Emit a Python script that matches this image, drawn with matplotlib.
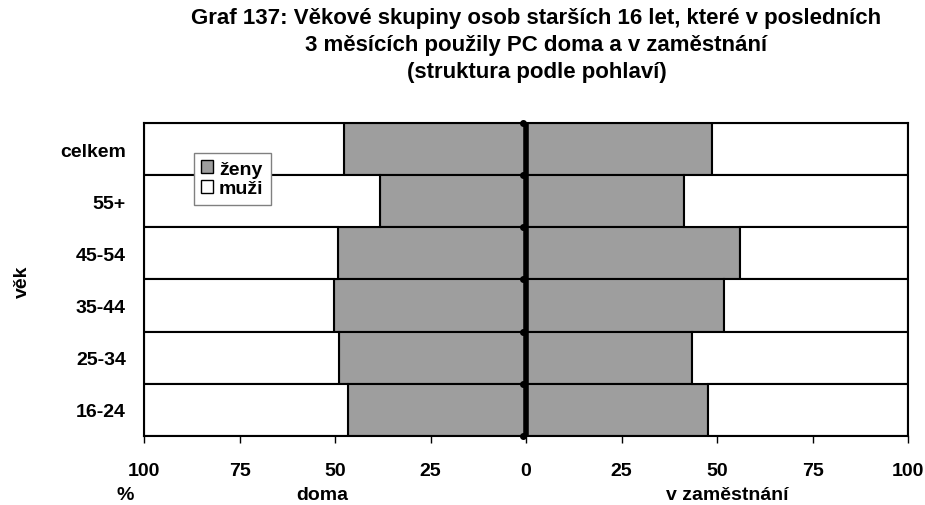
import numpy as np
import matplotlib.pyplot as plt
from matplotlib.patches import Patch

plt.rcParams['font.family'] = ['Liberation Sans', 'DejaVu Sans']
plt.rcParams['font.weight'] = 'bold'

# data
vek = ['celkem', '55+', '45-54', '35-44', '25-34', '16-24']
doma_zeny = [47.6, 38.2, 49.2, 50.4, 49.0, 46.6]
prace_zeny = [48.7, 41.4, 56.0, 51.8, 43.5, 47.6]
xticks = [-100, -75, -50, -25, 0, 25, 50, 75, 100]

seda = '#9e9e9e'
y = np.arange(len(vek))[::-1]
doma_zeny = np.array(doma_zeny)
prace_zeny = np.array(prace_zeny)

fig = plt.figure(figsize=(9.25, 5.06), dpi=100)
ax = fig.add_axes([0.1557, 0.1364, 0.826, 0.6186])

# levá strana - doma
ax.barh(y, -doma_zeny, height=1, color=seda, edgecolor='black', lw=1.5)
ax.barh(y, -(100 - doma_zeny), left=-doma_zeny, height=1, color='white',
        edgecolor='black', lw=1.5)
# pravá strana - v zaměstnání
ax.barh(y, prace_zeny, height=1, color=seda, edgecolor='black', lw=1.5)
ax.barh(y, 100 - prace_zeny, left=prace_zeny, height=1, color='white',
        edgecolor='black', lw=1.5)

# středová osa
ax.axvline(0, color='black', lw=4, zorder=5)
hranice = np.arange(len(vek) + 1) - 0.5
ax.plot(np.full(len(hranice), -0.9), hranice, 'o', color='black', ms=4,
        zorder=6, clip_on=False)

ax.set_xlim(-100, 100)
ax.set_ylim(-0.5, len(vek) - 0.5)
ax.set_xticks(xticks)
ax.set_xticklabels([str(abs(t)) for t in xticks], fontsize=14, fontweight='bold')
ax.tick_params(axis='x', direction='out', length=5, width=1, pad=14)
ax.set_yticks(y)
ax.set_yticklabels(vek, fontsize=14, fontweight='bold')
ax.tick_params(axis='y', length=0, pad=13)
for s in ax.spines.values():
    s.set_linewidth(1.5)

fig.text(0.024, 0.443, 'věk', rotation=90, ha='center', va='center',
         fontsize=14, fontweight='bold')
fig.text(0.135, 0.02, '%', ha='center', va='center', fontsize=14, fontweight='bold')
fig.text(0.348, 0.02, 'doma', ha='center', va='center', fontsize=14, fontweight='bold')
fig.text(0.786, 0.02, 'v zaměstnání', ha='center', va='center', fontsize=14,
         fontweight='bold')

fig.suptitle('Graf 137: Věkové skupiny osob starších 16 let, které v posledních\n'
             '3 měsících použily PC doma a v zaměstnání\n(struktura podle pohlaví)',
             x=0.58, y=0.985, fontsize=16, fontweight='bold', linespacing=1.4)

leg = ax.legend(handles=[Patch(facecolor=seda, edgecolor='black', label='ženy'),
                         Patch(facecolor='white', edgecolor='black', label='muži')],
                loc='upper left', bbox_to_anchor=(0.065, 0.905), fontsize=14,
                handlelength=0.6, handleheight=0.6, handletextpad=0.3,
                borderpad=0.4, labelspacing=0.15, borderaxespad=0,
                fancybox=False, edgecolor='gray', framealpha=1)
leg.get_frame().set_linewidth(1)

fig.savefig('out.png', dpi=100)
